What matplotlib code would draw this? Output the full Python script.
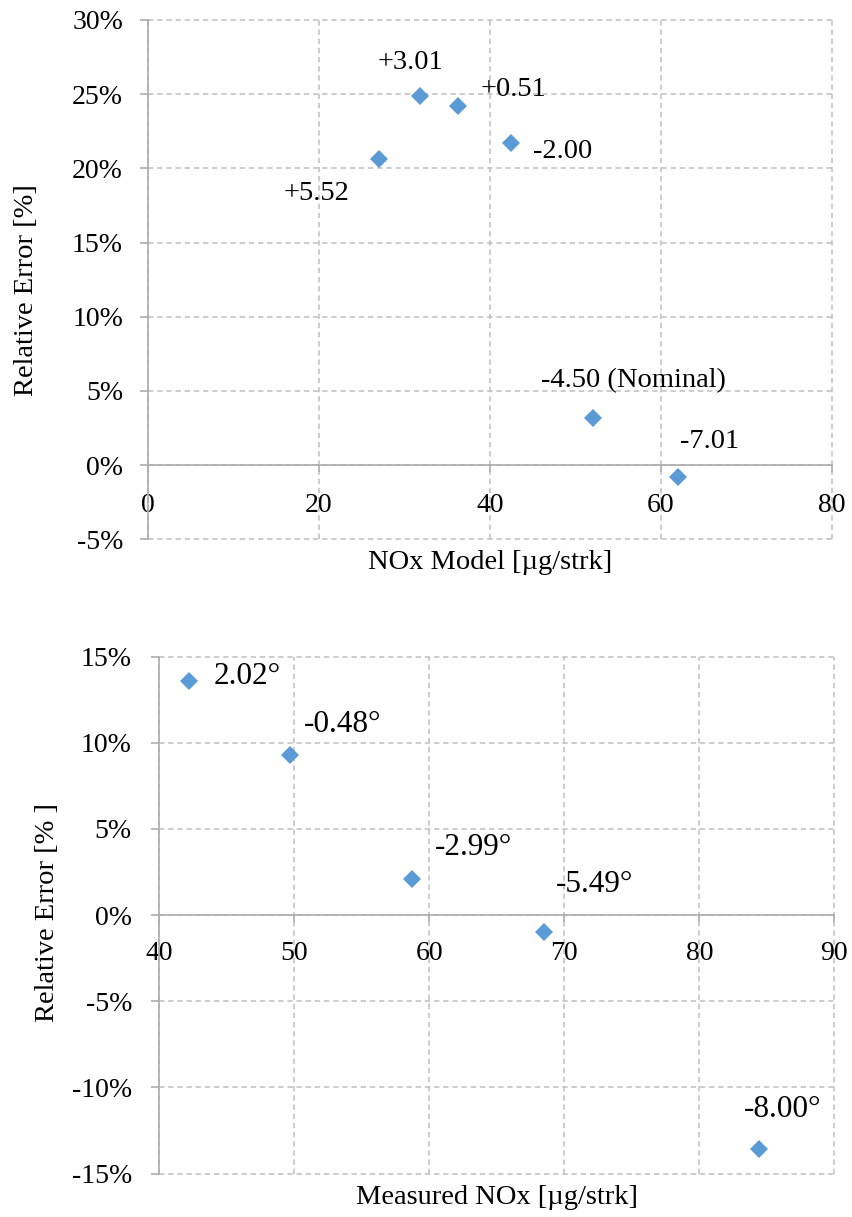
import sys
import numpy as np
import matplotlib
matplotlib.use('Agg')
import matplotlib.pyplot as plt
from matplotlib.ticker import PercentFormatter, MultipleLocator

# Top chart: NOx model vs. relative error, labelled by injection timing
model_nox = [27.0, 31.8, 36.3, 42.5, 52.0, 62.0]
model_err = [20.65, 24.9, 24.2, 21.7, 3.2, -0.8]
model_labels = ['+5.52', '+3.01', '+0.51', '-2.00', '-4.50 (Nominal)', '-7.01']
model_offsets = [(-44.6, -25.0), (-6.8, 23.9), (39.9, 12.2), (37.2, -6.3), (29.5, 26.3), (22.8, 25.2)]

# Bottom chart: measured NOx vs. relative error, labelled by angle
meas_nox = [42.2, 49.7, 58.7, 68.5, 84.4]
meas_err = [13.6, 9.3, 2.1, -1.0, -13.6]
meas_labels = ['2.02°', '-0.48°', '-2.99°', '-5.49°', '-8.00°']
meas_offsets = [(42.4, 2.9), (38.0, 21.6), (44.5, 22.5), (36.4, 34.8), (17.3, 28.8)]

MARKER_C = '#5B9BD5'
GRID_C = '#BFBFBF'
AXIS_C = '#ADADAD'


def Style_Axis(ax, xlim, xstep, ylim, ystep, tick_pad, xtick_pad):
    # Limits and ticks
    ax.set_xlim(xlim)
    ax.set_ylim(ylim)
    ax.xaxis.set_major_locator(MultipleLocator(xstep))
    ax.yaxis.set_major_locator(MultipleLocator(ystep))
    ax.yaxis.set_major_formatter(PercentFormatter(xmax=100, decimals=0))
    # Only the left axis and the zero line are solid
    ax.spines['top'].set_visible(False)
    ax.spines['right'].set_visible(False)
    ax.spines['bottom'].set_position(('data', 0))
    for s in ['left', 'bottom']:
        ax.spines[s].set_color(AXIS_C)
        ax.spines[s].set_linewidth(1.2)
    ax.tick_params(axis='y', direction='out', length=6, width=1.2, color=AXIS_C,
                   labelsize=20, pad=tick_pad)
    ax.tick_params(axis='x', direction='out', length=5, width=1.2, color=AXIS_C,
                   labelsize=20, pad=xtick_pad)
    # Dashed grid, edges included
    ax.grid(True, color=GRID_C, linestyle=(0, (3.5, 2.5)), linewidth=1.1)
    ax.set_axisbelow(True)
    for gl in ax.get_xgridlines() + ax.get_ygridlines():
        gl.set_clip_on(False)


def Plot_Points(ax, x, y, labels, offsets, fontsize):
    ax.plot(x, y, linestyle='none', marker='D', markersize=9.5,
            color=MARKER_C, markeredgewidth=0, zorder=3, clip_on=False)
    for xi, yi, lab, off in zip(x, y, labels, offsets):
        ax.annotate(lab, (xi, yi), xytext=off, textcoords='offset points',
                    ha='center', va='center', fontsize=fontsize)


def main():
    plt.rcParams['font.family'] = ['Liberation Serif', 'DejaVu Serif']
    plt.rcParams['axes.unicode_minus'] = False

    fig = plt.figure(figsize=(8.53, 12.17), dpi=100)

    # Top chart
    ax1 = fig.add_axes([0.1735, 0.5569, 0.8019, 0.4267])
    Style_Axis(ax1, [0, 80], 20, [-5, 30], 5, 12, 15)
    Plot_Points(ax1, model_nox, model_err, model_labels, model_offsets, 20.5)
    ax1.set_xlabel('NOx Model [µg/strk]', fontsize=20.5, va='center')
    ax1.xaxis.set_label_coords(0.5, -0.045)
    ax1.set_ylabel('Relative Error [%]', fontsize=20.5, va='center')
    ax1.yaxis.set_label_coords(-0.178, 0.48)

    # Bottom chart
    ax2 = fig.add_axes([0.1864, 0.0357, 0.7917, 0.4247])
    Style_Axis(ax2, [40, 90], 10, [-15, 15], 5, 13.5, 13.5)
    Plot_Points(ax2, meas_nox, meas_err, meas_labels, meas_offsets, 22.5)
    ax2.set_xlabel('Measured NOx [µg/strk]', fontsize=20.5, va='center')
    ax2.xaxis.set_label_coords(0.5, -0.047)
    ax2.set_ylabel('Relative Error [% ]', fontsize=20.5, va='center')
    ax2.yaxis.set_label_coords(-0.165, 0.506)

    fig.savefig('out.png', dpi=100)


if __name__ == '__main__':
    sys.exit(main())
